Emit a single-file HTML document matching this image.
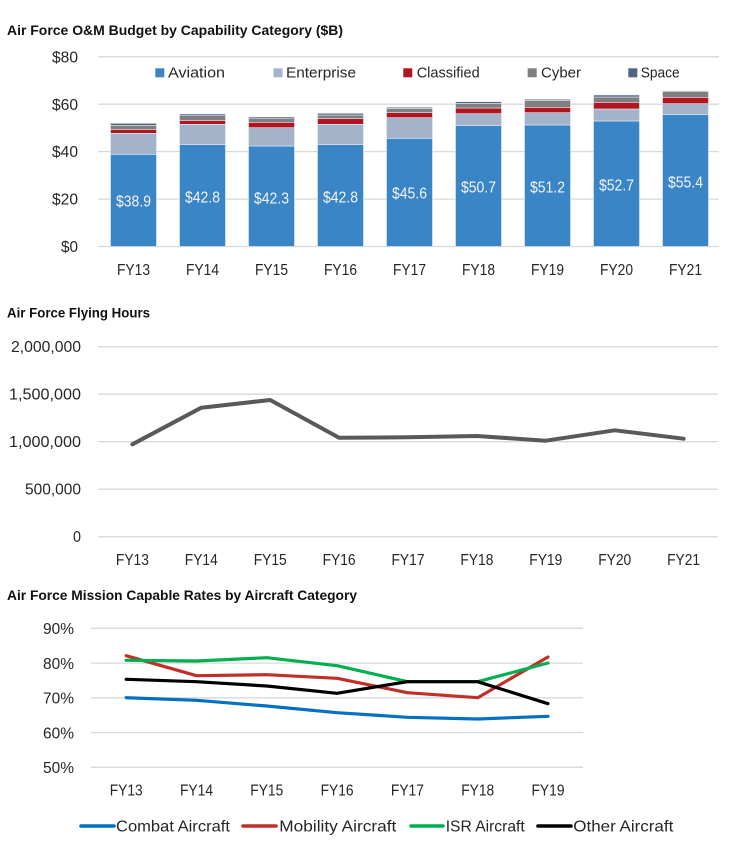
<!DOCTYPE html>
<html>
<head>
<meta charset="utf-8">
<style>
  html, body { margin:0; padding:0; background:#ffffff; }
  svg { display:block; }
  text { font-family: "Liberation Sans", "DejaVu Sans", sans-serif; }
  .title { font-weight:bold; font-size:14px; fill:#111111; }
  .tick { font-size:16px; fill:#262626; }
  .leg { font-size:15px; fill:#262626; }
  .dl { font-size:15.5px; fill:#f4f4f4; }
  .grid { stroke:#d9d9d9; stroke-width:1.3; }
</style>
</head>
<body>
<svg width="740" height="859" viewBox="0 0 740 859" xmlns="http://www.w3.org/2000/svg">
  <rect x="0" y="0" width="740" height="859" fill="#ffffff"/>

  <!-- ================= CHART 1 ================= -->
  <text class="title" x="7" y="35" textLength="336" lengthAdjust="spacingAndGlyphs">Air Force O&amp;M Budget by Capability Category ($B)</text>

  <g>
    <line class="grid" x1="98" y1="56.7" x2="719" y2="56.7"/>
    <line class="grid" x1="98" y1="104.2" x2="719" y2="104.2"/>
    <line class="grid" x1="98" y1="151.6" x2="719" y2="151.6"/>
    <line class="grid" x1="98" y1="199.1" x2="719" y2="199.1"/>
    <line class="grid" x1="98" y1="246.5" x2="719" y2="246.5"/>
  </g>
  <g class="tick" text-anchor="end">
    <text x="78" y="62.3" textLength="26" lengthAdjust="spacingAndGlyphs">$80</text>
    <text x="78" y="109.8" textLength="26" lengthAdjust="spacingAndGlyphs">$60</text>
    <text x="78" y="157.2" textLength="26" lengthAdjust="spacingAndGlyphs">$40</text>
    <text x="78" y="204.7" textLength="26" lengthAdjust="spacingAndGlyphs">$20</text>
    <text x="78" y="252.1" textLength="17" lengthAdjust="spacingAndGlyphs">$0</text>
  </g>

  <!-- legend -->
  <g class="leg">
    <rect x="155.3" y="68.3" width="9" height="9" fill="#3a85c5"/>
    <text x="168" y="77.5" textLength="57" lengthAdjust="spacingAndGlyphs">Aviation</text>
    <rect x="273.5" y="68.3" width="9" height="9" fill="#a3b3ca"/>
    <text x="286" y="77.5" textLength="70" lengthAdjust="spacingAndGlyphs">Enterprise</text>
    <rect x="403.3" y="68.3" width="9" height="9" fill="#b01520"/>
    <text x="416.7" y="77.5" textLength="63" lengthAdjust="spacingAndGlyphs">Classified</text>
    <rect x="527.7" y="68.3" width="9" height="9" fill="#7f7f7f"/>
    <text x="541" y="77.5" textLength="40" lengthAdjust="spacingAndGlyphs">Cyber</text>
    <rect x="628.3" y="68.3" width="9" height="9" fill="#4d6587"/>
    <text x="640.7" y="77.5" textLength="39" lengthAdjust="spacingAndGlyphs">Space</text>
  </g>

  <!-- bars -->
  <g stroke="#e8eef6" stroke-width="0.6">
    <!-- FY13 -->
    <rect x="110.5" y="154.3" width="46" height="92.2" fill="#3a85c5"/>
    <rect x="110.5" y="133.3" width="46" height="21" fill="#a3b3ca"/>
    <rect x="110.5" y="129.3" width="46" height="4" fill="#b01520"/>
    <rect x="110.5" y="125.3" width="46" height="4" fill="#7f7f7f"/>
    <rect x="110.5" y="123.3" width="46" height="2" fill="#4d6587"/>
    <!-- FY14 -->
    <rect x="179.5" y="144.7" width="46" height="101.8" fill="#3a85c5"/>
    <rect x="179.5" y="124.3" width="46" height="20.4" fill="#a3b3ca"/>
    <rect x="179.5" y="120.7" width="46" height="3.6" fill="#b01520"/>
    <rect x="179.5" y="115.7" width="46" height="5" fill="#7f7f7f"/>
    <rect x="179.5" y="114" width="46" height="1.7" fill="#4d6587"/>
    <!-- FY15 -->
    <rect x="248.5" y="146" width="46" height="100.5" fill="#3a85c5"/>
    <rect x="248.5" y="127.7" width="46" height="18.3" fill="#a3b3ca"/>
    <rect x="248.5" y="122.3" width="46" height="5.4" fill="#b01520"/>
    <rect x="248.5" y="118.7" width="46" height="3.6" fill="#7f7f7f"/>
    <rect x="248.5" y="117" width="46" height="1.7" fill="#4d6587"/>
    <!-- FY16 -->
    <rect x="317.5" y="144.7" width="46" height="101.8" fill="#3a85c5"/>
    <rect x="317.5" y="124.3" width="46" height="20.4" fill="#a3b3ca"/>
    <rect x="317.5" y="118.7" width="46" height="5.6" fill="#b01520"/>
    <rect x="317.5" y="115" width="46" height="3.7" fill="#7f7f7f"/>
    <rect x="317.5" y="113.3" width="46" height="1.7" fill="#4d6587"/>
    <!-- FY17 -->
    <rect x="386.5" y="138.3" width="46" height="108.2" fill="#3a85c5"/>
    <rect x="386.5" y="117.7" width="46" height="20.6" fill="#a3b3ca"/>
    <rect x="386.5" y="112.7" width="46" height="5" fill="#b01520"/>
    <rect x="386.5" y="108.3" width="46" height="4.4" fill="#7f7f7f"/>
    <rect x="386.5" y="107.3" width="46" height="1" fill="#4d6587"/>
    <!-- FY18 -->
    <rect x="455.5" y="125.7" width="46" height="120.8" fill="#3a85c5"/>
    <rect x="455.5" y="113.7" width="46" height="12" fill="#a3b3ca"/>
    <rect x="455.5" y="108" width="46" height="5.7" fill="#b01520"/>
    <rect x="455.5" y="103.3" width="46" height="4.7" fill="#7f7f7f"/>
    <rect x="455.5" y="101.7" width="46" height="1.6" fill="#4d6587"/>
    <!-- FY19 -->
    <rect x="524.5" y="125" width="46" height="121.5" fill="#3a85c5"/>
    <rect x="524.5" y="112.7" width="46" height="12.3" fill="#a3b3ca"/>
    <rect x="524.5" y="107.3" width="46" height="5.4" fill="#b01520"/>
    <rect x="524.5" y="100.3" width="46" height="7" fill="#7f7f7f"/>
    <rect x="524.5" y="99.3" width="46" height="1" fill="#4d6587"/>
    <!-- FY20 -->
    <rect x="593.5" y="121" width="46" height="125.5" fill="#3a85c5"/>
    <rect x="593.5" y="109" width="46" height="12" fill="#a3b3ca"/>
    <rect x="593.5" y="102.3" width="46" height="6.7" fill="#b01520"/>
    <rect x="593.5" y="97" width="46" height="5.3" fill="#7f7f7f"/>
    <rect x="593.5" y="95" width="46" height="2" fill="#4d6587"/>
    <!-- FY21 -->
    <rect x="662.5" y="114.7" width="46" height="131.8" fill="#3a85c5"/>
    <rect x="662.5" y="103.7" width="46" height="11" fill="#a3b3ca"/>
    <rect x="662.5" y="97.3" width="46" height="6.4" fill="#b01520"/>
    <rect x="662.5" y="91.3" width="46" height="6" fill="#7f7f7f"/>
    <rect x="662.5" y="90.7" width="46" height="0.6" fill="#4d6587"/>
  </g>

  <!-- data labels -->
  <g class="dl" text-anchor="middle">
    <text x="133.5" y="206.5" textLength="35" lengthAdjust="spacingAndGlyphs">$38.9</text>
    <text x="202.5" y="202.5" textLength="35" lengthAdjust="spacingAndGlyphs">$42.8</text>
    <text x="271.5" y="203.5" textLength="35" lengthAdjust="spacingAndGlyphs">$42.3</text>
    <text x="340.5" y="202.5" textLength="35" lengthAdjust="spacingAndGlyphs">$42.8</text>
    <text x="409.5" y="198.7" textLength="35" lengthAdjust="spacingAndGlyphs">$45.6</text>
    <text x="478.5" y="192.7" textLength="35" lengthAdjust="spacingAndGlyphs">$50.7</text>
    <text x="547.5" y="192.7" textLength="35" lengthAdjust="spacingAndGlyphs">$51.2</text>
    <text x="616.5" y="190.7" textLength="35" lengthAdjust="spacingAndGlyphs">$52.7</text>
    <text x="685.5" y="187.5" textLength="35" lengthAdjust="spacingAndGlyphs">$55.4</text>
  </g>

  <!-- x labels -->
  <g class="tick" text-anchor="middle">
    <text x="133.5" y="275" textLength="33" lengthAdjust="spacingAndGlyphs">FY13</text>
    <text x="202.5" y="275" textLength="33" lengthAdjust="spacingAndGlyphs">FY14</text>
    <text x="271.5" y="275" textLength="33" lengthAdjust="spacingAndGlyphs">FY15</text>
    <text x="340.5" y="275" textLength="33" lengthAdjust="spacingAndGlyphs">FY16</text>
    <text x="409.5" y="275" textLength="33" lengthAdjust="spacingAndGlyphs">FY17</text>
    <text x="478.5" y="275" textLength="33" lengthAdjust="spacingAndGlyphs">FY18</text>
    <text x="547.5" y="275" textLength="33" lengthAdjust="spacingAndGlyphs">FY19</text>
    <text x="616.5" y="275" textLength="33" lengthAdjust="spacingAndGlyphs">FY20</text>
    <text x="685.5" y="275" textLength="33" lengthAdjust="spacingAndGlyphs">FY21</text>
  </g>

  <!-- ================= CHART 2 ================= -->
  <text class="title" x="7" y="317.3" textLength="143" lengthAdjust="spacingAndGlyphs">Air Force Flying Hours</text>
  <g>
    <line class="grid" x1="98" y1="346.7" x2="718" y2="346.7"/>
    <line class="grid" x1="98" y1="394.2" x2="718" y2="394.2"/>
    <line class="grid" x1="98" y1="441.7" x2="718" y2="441.7"/>
    <line class="grid" x1="98" y1="489.2" x2="718" y2="489.2"/>
    <line class="grid" x1="98" y1="536.7" x2="718" y2="536.7"/>
  </g>
  <g class="tick" text-anchor="end">
    <text x="81" y="352.2" textLength="70" lengthAdjust="spacingAndGlyphs">2,000,000</text>
    <text x="81" y="399.7" textLength="72" lengthAdjust="spacingAndGlyphs">1,500,000</text>
    <text x="81" y="447.2" textLength="72" lengthAdjust="spacingAndGlyphs">1,000,000</text>
    <text x="81" y="494.7" textLength="56" lengthAdjust="spacingAndGlyphs">500,000</text>
    <text x="81" y="542.2" textLength="8" lengthAdjust="spacingAndGlyphs">0</text>
  </g>
  <polyline fill="none" stroke="#595959" stroke-width="4" stroke-linejoin="round" stroke-linecap="round"
    points="132.4,444.3 201.3,407.7 270.2,400 339.1,437.7 408,437.3 476.9,436 545.8,440.7 614.7,430.3 683.6,438.7"/>
  <g class="tick" text-anchor="middle">
    <text x="132.4" y="565" textLength="33" lengthAdjust="spacingAndGlyphs">FY13</text>
    <text x="201.3" y="565" textLength="33" lengthAdjust="spacingAndGlyphs">FY14</text>
    <text x="270.2" y="565" textLength="33" lengthAdjust="spacingAndGlyphs">FY15</text>
    <text x="339.1" y="565" textLength="33" lengthAdjust="spacingAndGlyphs">FY16</text>
    <text x="408" y="565" textLength="33" lengthAdjust="spacingAndGlyphs">FY17</text>
    <text x="476.9" y="565" textLength="33" lengthAdjust="spacingAndGlyphs">FY18</text>
    <text x="545.8" y="565" textLength="33" lengthAdjust="spacingAndGlyphs">FY19</text>
    <text x="614.7" y="565" textLength="33" lengthAdjust="spacingAndGlyphs">FY20</text>
    <text x="683.6" y="565" textLength="33" lengthAdjust="spacingAndGlyphs">FY21</text>
  </g>

  <!-- ================= CHART 3 ================= -->
  <text class="title" x="7" y="600" textLength="350" lengthAdjust="spacingAndGlyphs">Air Force Mission Capable Rates by Aircraft Category</text>
  <g>
    <line class="grid" x1="91" y1="628.3" x2="583" y2="628.3"/>
    <line class="grid" x1="91" y1="663.1" x2="583" y2="663.1"/>
    <line class="grid" x1="91" y1="697.8" x2="583" y2="697.8"/>
    <line class="grid" x1="91" y1="732.6" x2="583" y2="732.6"/>
    <line class="grid" x1="91" y1="767.3" x2="583" y2="767.3"/>
  </g>
  <g class="tick" text-anchor="end">
    <text x="74" y="634" textLength="31" lengthAdjust="spacingAndGlyphs">90%</text>
    <text x="74" y="668.8" textLength="31" lengthAdjust="spacingAndGlyphs">80%</text>
    <text x="74" y="703.5" textLength="31" lengthAdjust="spacingAndGlyphs">70%</text>
    <text x="74" y="738.3" textLength="31" lengthAdjust="spacingAndGlyphs">60%</text>
    <text x="74" y="773" textLength="31" lengthAdjust="spacingAndGlyphs">50%</text>
  </g>
  <g fill="none" stroke-width="3.2" stroke-linejoin="round" stroke-linecap="round">
    <polyline stroke="#0070c0" points="126.2,697.7 196.5,700.3 266.8,706 337.1,712.7 407.4,717.3 477.7,719 548,716.3"/>
    <polyline stroke="#c0302b" points="126.2,655.7 196.5,675.7 266.8,674.7 337.1,678.3 407.4,692.7 477.7,697.7 548,657"/>
    <polyline stroke="#00b050" points="126.2,660.3 196.5,661 266.8,657.7 337.1,665.7 407.4,681.7 477.7,681.7 548,663"/>
    <polyline stroke="#000000" points="126.2,679.3 196.5,681.7 266.8,686 337.1,693.3 407.4,681.7 477.7,681.7 548,703.7"/>
  </g>
  <g class="tick" text-anchor="middle">
    <text x="126.2" y="795.7" textLength="33" lengthAdjust="spacingAndGlyphs">FY13</text>
    <text x="196.5" y="795.7" textLength="33" lengthAdjust="spacingAndGlyphs">FY14</text>
    <text x="266.8" y="795.7" textLength="33" lengthAdjust="spacingAndGlyphs">FY15</text>
    <text x="337.1" y="795.7" textLength="33" lengthAdjust="spacingAndGlyphs">FY16</text>
    <text x="407.4" y="795.7" textLength="33" lengthAdjust="spacingAndGlyphs">FY17</text>
    <text x="477.7" y="795.7" textLength="33" lengthAdjust="spacingAndGlyphs">FY18</text>
    <text x="548" y="795.7" textLength="33" lengthAdjust="spacingAndGlyphs">FY19</text>
  </g>

  <!-- legend chart 3 -->
  <g stroke-width="3.6" stroke-linecap="round">
    <line x1="81" y1="826" x2="114" y2="826" stroke="#0070c0"/>
    <line x1="243" y1="826" x2="276" y2="826" stroke="#c0302b"/>
    <line x1="411" y1="826" x2="443" y2="826" stroke="#00b050"/>
    <line x1="538" y1="826" x2="571" y2="826" stroke="#000000"/>
  </g>
  <g class="leg" style="font-size:16px">
    <text x="116" y="831.7" textLength="114" lengthAdjust="spacingAndGlyphs">Combat Aircraft</text>
    <text x="279.3" y="831.7" textLength="117" lengthAdjust="spacingAndGlyphs">Mobility Aircraft</text>
    <text x="445.7" y="831.7" textLength="79" lengthAdjust="spacingAndGlyphs">ISR Aircraft</text>
    <text x="573.3" y="831.7" textLength="100" lengthAdjust="spacingAndGlyphs">Other Aircraft</text>
  </g>
</svg>
</body>
</html>
